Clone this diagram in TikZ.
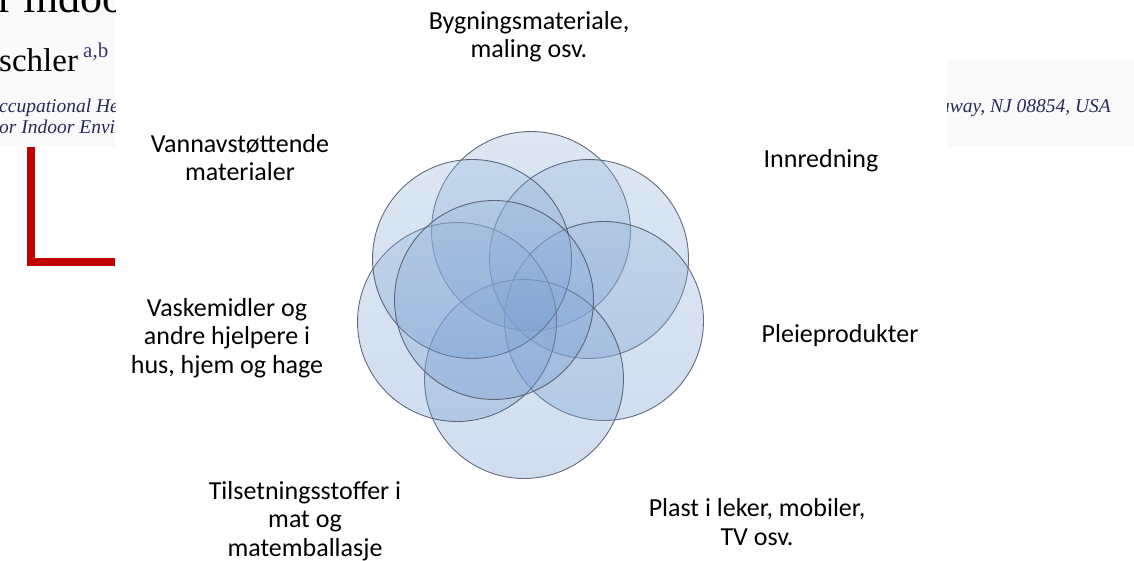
\documentclass[tikz,border=0pt]{standalone}
\usepackage{fontspec}
\setmainfont{Carlito}
\newfontfamily\paperfont{Liberation Serif}
\definecolor{venntop}{RGB}{150,182,218}
\definecolor{vennbottom}{RGB}{112,152,206}
\definecolor{vennline}{RGB}{75,85,105}
\definecolor{paperred}{RGB}{192,0,0}
\definecolor{paperblue}{RGB}{60,50,130}
\definecolor{paperink}{RGB}{40,40,90}
\definecolor{papergray}{RGB}{250,250,250}
\tikzset{
    venn/.style={circle,minimum size=199pt,inner sep=0pt,draw=vennline,line width=0.9pt,
        draw opacity=0.85,top color=venntop,bottom color=vennbottom,fill opacity=0.33},
    itemtext/.style={align=center,anchor=base,font=\fontsize{26}{28.5}\selectfont},
    papertext/.style={anchor=base west,inner sep=0pt}
}
\begin{document}
\begin{tikzpicture}[x=1pt,y=-1pt]
    \useasboundingbox (0,0) rectangle (1134,561);
    % clipped piece of the paper behind
    \fill[papergray] (0,0) rectangle (115,147);
    \fill[papergray] (947,60) rectangle (1134,147);
    \begin{scope}
        \clip (0,0) rectangle (115,147);
        \node[papertext,font=\paperfont\fontsize{44}{44}\selectfont] (title) at (-2,13) {r indoor};
        \node[papertext,font=\paperfont\fontsize{33}{33}\selectfont] (author) at (-1,72) {schler};
        \node[papertext,font=\paperfont\fontsize{21}{21}\selectfont,text=paperblue] (authormark) at (83,58) {a,b};
        \node[papertext,font=\paperfont\itshape\fontsize{19.5}{19.5}\selectfont,text=paperink] (affilA) at (-1,113) {ccupational Health};
        \node[papertext,font=\paperfont\itshape\fontsize{19.5}{19.5}\selectfont,text=paperink] (affilB) at (-1,134) {or Indoor Environment};
    \end{scope}
    \begin{scope}
        \clip (947,60) rectangle (1134,147);
        \node[papertext,anchor=base east,font=\paperfont\itshape\fontsize{19.5}{19.5}\selectfont,text=paperink] (affilC) at (1111,113) {Piscataway, NJ 08854, USA};
    \end{scope}
    \draw[paperred,line width=8pt] (31,147) -- (31,262) -- (115,262);
    % the seven circles
    \foreach \nm/\cx/\cy in {bygg/531/231,innr/589/259,pleie/604/321,plast/524/379,vask/457/322,vann/472/259,tils/494/300}
        \node[venn] (\nm) at (\cx,\cy) {};
    % texts round the circles (base = last line)
    \node[itemtext] (byggtext) at (529,58) {Bygningsmateriale,\\maling osv.};
    \node[itemtext] (innrtext) at (821,168) {Innredning};
    \node[itemtext] (pleietext) at (840,342) {Pleieprodukter};
    \node[itemtext] (plasttext) at (757,545) {Plast i leker, mobiler,\\TV osv.};
    \node[itemtext] (tilstext) at (305,556) {Tilsetningsstoffer i\\mat og\\matemballasje};
    \node[itemtext] (vasktext) at (227,373) {Vaskemidler og\\andre hjelpere i\\hus, hjem og hage};
    \node[itemtext] (vanntext) at (240,181) {Vannavstøttende\\materialer};
\end{tikzpicture}
\end{document}
